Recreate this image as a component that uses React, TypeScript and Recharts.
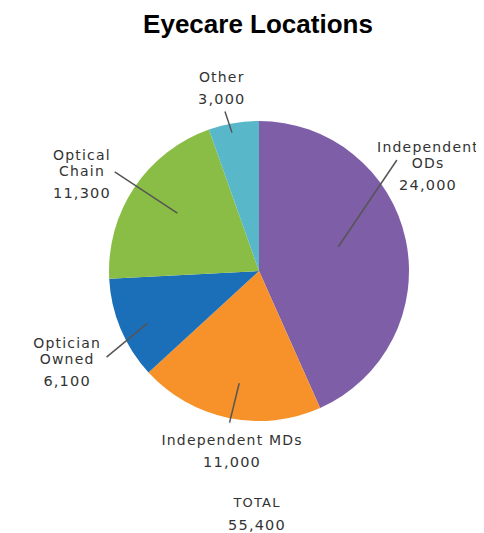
import React from "react";
import { PieChart, Pie, Cell } from "recharts";

const title = "Eyecare Locations";
const categories = ["Independent ODs", "Independent MDs", "Optician Owned", "Optical Chain", "Other"];
const nameLines = [["Independent", "ODs"], ["Independent MDs"], ["Optician", "Owned"], ["Optical", "Chain"], ["Other"]];
const values = [24000, 11000, 6100, 11300, 3000];
const totalLabel = "TOTAL";

const colors = ["#7f5ea8", "#f7922a", "#1a6fb8", "#8abd45", "#58b8c9"];

// label placement style: r = radius factor, da = angle offset from slice middle (deg)
const labelStyle = [
  { r: 1.378, da: 23.1, l0: [0.553, 5], l1: [1.18, 26.8] },
  { r: 1.174, da: 2.9, l0: [0.76, 1.7], l1: [1.03, 0.7] },
  { r: 1.379, da: -0.8, l0: [0.82, 2.3], l1: [1.167, 6.7] },
  { r: 1.393, da: 1.7, l0: [0.667, -1.5], l1: [1.167, -0.7] },
  { r: 1.284, da: 1.4, l0: [0.94, 1.3], l1: [1.087, 2.3] },
];

const data = categories.map((c, i) => ({ name: c, value: values[i] }));
const total = values.reduce((a, b) => a + b, 0);
const fmt = (v: number) => v.toLocaleString("en-US");

const RAD = Math.PI / 180;
const textStyle: React.CSSProperties = {
  fontFamily: "'DejaVu Sans', sans-serif",
  fontSize: 14,
  letterSpacing: 1.2,
  fill: "#333",
};

const renderLabel = (props: any) => {
  const { cx, cy, midAngle, outerRadius, index, value } = props;
  const s = labelStyle[index];
  const pt = (rf: number, da: number) => {
    const a = (midAngle + da) * RAD;
    return [cx + outerRadius * rf * Math.cos(a), cy - outerRadius * rf * Math.sin(a)];
  };
  const [tx, ty] = pt(s.r, s.da);
  const [x0, y0] = pt(s.l0[0], s.l0[1]);
  const [x1, y1] = pt(s.l1[0], s.l1[1]);
  const lines = nameLines[index];
  return (
    <g key={`lbl-${index}`}>
      <line x1={x0} y1={y0} x2={x1} y2={y1} stroke="#555" strokeWidth={1.5} />
      {lines.map((t, i) => (
        <text key={i} x={tx} y={ty + i * 16} textAnchor="middle" style={textStyle}>
          {t}
        </text>
      ))}
      <text x={tx} y={ty + (lines.length - 1) * 16 + 22} textAnchor="middle" style={{ ...textStyle, fontSize: 14.5 }}>
        {fmt(value)}
      </text>
    </g>
  );
};

export default function App() {
  return (
    <div style={{ position: "relative", width: 476, height: 525 }}>
      <PieChart width={476} height={525} margin={{ top: 0, right: 0, bottom: 0, left: 0 }}>
        <Pie
          data={data}
          dataKey="value"
          nameKey="name"
          cx={251}
          cy={263}
          outerRadius={150}
          startAngle={90}
          endAngle={-270}
          stroke="none"
          label={renderLabel}
          labelLine={false}
          isAnimationActive={false}
        >
          {data.map((d, i) => (
            <Cell key={d.name} fill={colors[i]} />
          ))}
        </Pie>
      </PieChart>
      <svg width={476} height={525} style={{ position: "absolute", left: 0, top: 0, pointerEvents: "none" }}>
        <text x={250} y={25} textAnchor="middle" style={{ fontFamily: "'Liberation Sans', Arial, sans-serif", fontWeight: 700, fontSize: 26, fill: "#000" }}>
          {title}
        </text>
        <text x={249} y={499} textAnchor="middle" style={{ ...textStyle, fontSize: 13 }}>
          {totalLabel}
        </text>
        <text x={249} y={522} textAnchor="middle" style={{ ...textStyle, fontSize: 14.5 }}>
          {fmt(total)}
        </text>
      </svg>
    </div>
  );
}
